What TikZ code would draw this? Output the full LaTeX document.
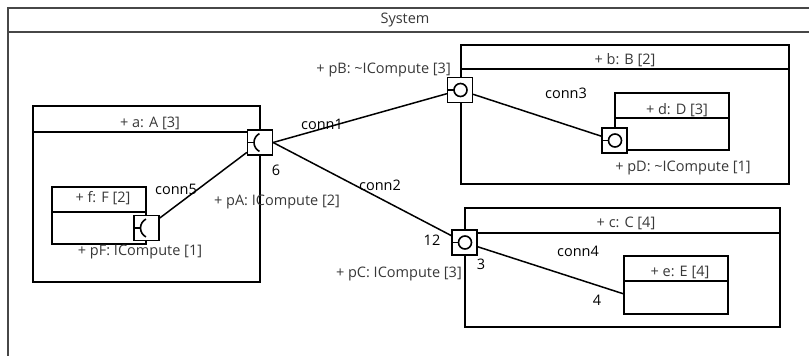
\documentclass[tikz,border=0pt]{standalone}
\usepackage{fontspec}
\setmainfont{Open Sans}

\tikzset{
  frame/.style={draw=black!72, line width=2pt},
  partbox/.style={line width=1.2pt},
  port/.style={draw, line width=1.2pt, fill=white, minimum size=25pt, inner sep=0pt},
  provided/.style={port, path picture={
      \draw[line width=1.6pt] (path picture bounding box.west) -- ([xshift=6.5pt]path picture bounding box.west);
      \draw[line width=1.6pt] ([xshift=0.5pt]path picture bounding box.center) circle[radius=6.5pt];}},
  required/.style={port, path picture={
      \draw[line width=1.6pt] (path picture bounding box.west) -- ([xshift=7pt]path picture bounding box.west);
      \draw[line width=1.6pt] ([xshift=-6pt]path picture bounding box.center) arc[start angle=180, end angle=117, radius=10pt];
      \draw[line width=1.6pt] ([xshift=-6pt]path picture bounding box.center) arc[start angle=180, end angle=243, radius=10pt];}},
  conn/.style={line width=1.5pt},
  lbl/.style={text=black!78, inner sep=0pt, font=\fontsize{14.5}{17}\selectfont},
  connlbl/.style={text=black, inner sep=0pt, font=\fontsize{14.5}{17}\selectfont}
}

\begin{document}
\begin{tikzpicture}[x=1pt, y=-1pt]
    \useasboundingbox (0,0) rectangle (809,356);

    % Draw the system frame
    \draw[frame] (812,8) -- (8,8) -- (8,360);
    \draw[frame] (8,32) -- (812,32);
    \node[lbl] (sysLabel) at (405,20) {System};

    % Draw the parts with their header lines
    \draw[partbox] (33,106) rectangle (260,282);
    \draw[partbox] (33,132) -- (260,132);
    \node[lbl] (aLabel) at (150,123) {+ a: A [3]};

    \draw[partbox] (52,187) rectangle (146,244);
    \draw[partbox] (52,212) -- (146,212);
    \node[lbl] (fLabel) at (103,198) {+ f: F [2]};

    \draw[partbox] (461,45) rectangle (789,184);
    \draw[partbox] (461,69) -- (789,69);
    \node[lbl] (bLabel) at (625,60) {+ b: B [2]};

    \draw[partbox] (615,93) rectangle (729,150);
    \draw[partbox] (615,118) -- (729,118);
    \node[lbl] (dLabel) at (677,110) {+ d: D [3]};

    \draw[partbox] (465,208) rectangle (780,327);
    \draw[partbox] (465,233) -- (780,233);
    \node[lbl] (cLabel) at (626,223) {+ c: C [4]};

    \draw[partbox] (624,256) rectangle (728,314);
    \draw[partbox] (624,281) -- (728,281);
    \node[lbl] (eLabel) at (680,272) {+ e: E [4]};
    \coordinate (eIn) at (624,294);

    % Draw the ports on the part borders
    \node[required] (pA) at (260,142.5) {};
    \node[required] (pF) at (146.5,228) {};
    \node[provided] (pB) at (460,90) {};
    \node[provided] (pD) at (614.5,140.5) {};
    \node[provided] (pC) at (464.5,242.5) {};

    \node[lbl] (pALabel) at (277,202) {+ pA: ICompute [2]};
    \node[lbl] (pFLabel) at (140,252) {+ pF: ICompute [1]};
    \node[lbl, anchor=east] (pBLabel) at (451,70) {+ pB: \textasciitilde ICompute [3]};
    \node[lbl] (pDLabel) at (683,168) {+ pD: \textasciitilde ICompute [1]};
    \node[lbl, anchor=east] (pCLabel) at (462,274) {+ pC: ICompute [3]};

    % Draw the connectors between the ports
    \draw[conn] (pA.east) -- (pB);
    \draw[conn] (pA.east) -- (pC);
    \draw[conn] (pB) -- (pD);
    \draw[conn] (pC) -- (eIn);
    \draw[conn] (pF) -- (pA);

    % Connector names and multiplicities
    \node[connlbl] (conn1) at (322,124) {conn1};
    \node[connlbl] (conn2) at (380,185) {conn2};
    \node[connlbl] (conn3) at (566,93) {conn3};
    \node[connlbl] (conn4) at (578,251) {conn4};
    \node[connlbl] (conn5) at (176,189) {conn5};
    \node[connlbl] (mA) at (276,170) {6};
    \node[connlbl] (mC1) at (432,240) {12};
    \node[connlbl] (mC2) at (481,264) {3};
    \node[connlbl] (mE) at (597,300) {4};
\end{tikzpicture}
\end{document}
